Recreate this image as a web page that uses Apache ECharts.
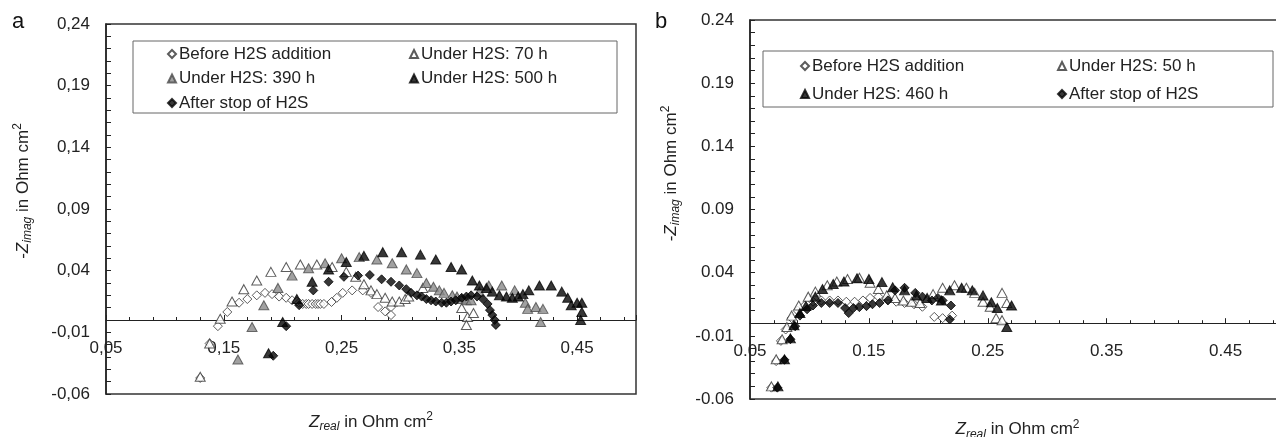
<!DOCTYPE html>
<html>
<head>
<meta charset="utf-8">
<script src="https://cdn.jsdelivr.net/npm/echarts@6/dist/echarts.min.js"></script>
<style>html,body{margin:0;padding:0;background:#fff}#c{width:1276px;height:437px}</style>
</head>
<body>
<div id="c"></div>
<script>
// ---- Panel a data: [Zreal, -Zimag] in Ohm cm2 ----
const aBefore = [[0.130,-0.047],[0.138,-0.019],[0.145,-0.005],[0.153,0.0065],[0.163,0.014],[0.170,0.017],[0.178,0.020],[0.185,0.022],[0.191,0.021],[0.197,0.019],[0.203,0.018],[0.208,0.016],[0.212,0.015],[0.214,0.014],[0.217,0.013],[0.220,0.013],[0.222,0.013],[0.225,0.013],[0.228,0.013],[0.230,0.013],[0.232,0.013],[0.235,0.013],[0.2415,0.0146],[0.246,0.018],[0.251,0.022],[0.259,0.024],[0.268,0.024],[0.275,0.022],[0.281,0.0105],[0.287,0.007],[0.292,0.0105],[0.292,0.004]];
const a70h = [[0.130,-0.046],[0.138,-0.019],[0.147,0.001],[0.157,0.015],[0.167,0.025],[0.178,0.032],[0.190,0.039],[0.203,0.043],[0.215,0.045],[0.229,0.045],[0.242,0.043],[0.254,0.039],[0.262,0.035],[0.269,0.029],[0.275,0.024],[0.280,0.021],[0.287,0.018],[0.293,0.015],[0.299,0.015],[0.304,0.017],[0.307,0.019],[0.319,0.026],[0.352,0.0097],[0.357,0.0024],[0.362,0.0057],[0.356,-0.004]];
const a390h = [[0.162,-0.032],[0.174,-0.0057],[0.184,0.012],[0.196,0.026],[0.208,0.036],[0.222,0.042],[0.236,0.046],[0.250,0.050],[0.265,0.051],[0.280,0.049],[0.293,0.046],[0.305,0.041],[0.314,0.038],[0.322,0.030],[0.328,0.027],[0.333,0.024],[0.337,0.022],[0.344,0.020],[0.348,0.019],[0.352,0.017],[0.356,0.016],[0.360,0.016],[0.367,0.023],[0.375,0.028],[0.386,0.028],[0.397,0.024],[0.406,0.014],[0.408,0.009],[0.415,0.0105],[0.421,0.009],[0.419,-0.0016]];
const a500h = [[0.188,-0.027],[0.200,-0.0016],[0.212,0.017],[0.225,0.031],[0.239,0.041],[0.254,0.047],[0.269,0.052],[0.285,0.055],[0.301,0.055],[0.317,0.053],[0.330,0.049],[0.343,0.043],[0.352,0.041],[0.361,0.032],[0.367,0.028],[0.373,0.026],[0.378,0.023],[0.384,0.020],[0.390,0.019],[0.395,0.018],[0.400,0.019],[0.404,0.021],[0.409,0.024],[0.418,0.028],[0.428,0.028],[0.437,0.023],[0.442,0.018],[0.445,0.012],[0.450,0.014],[0.454,0.014],[0.454,0.0065],[0.453,0.0]];
const aAfter = [[0.192,-0.029],[0.203,-0.005],[0.214,0.012],[0.226,0.024],[0.239,0.031],[0.252,0.035],[0.264,0.036],[0.274,0.0365],[0.284,0.033],[0.292,0.031],[0.299,0.028],[0.305,0.025],[0.309,0.022],[0.314,0.020],[0.318,0.019],[0.322,0.017],[0.326,0.016],[0.330,0.015],[0.335,0.014],[0.339,0.014],[0.343,0.015],[0.347,0.016],[0.352,0.018],[0.356,0.019],[0.360,0.020],[0.365,0.019],[0.370,0.017],[0.374,0.013],[0.376,0.008],[0.378,0.004],[0.380,0.0],[0.381,-0.004]];

// ---- Panel b data ----
const bBefore = [[0.068,-0.051],[0.072,-0.030],[0.076,-0.014],[0.080,-0.005],[0.085,0.004],[0.090,0.010],[0.096,0.014],[0.103,0.017],[0.110,0.018],[0.117,0.018],[0.124,0.018],[0.131,0.017],[0.138,0.017],[0.145,0.018],[0.151,0.020],[0.158,0.021],[0.166,0.019],[0.173,0.017],[0.180,0.016],[0.188,0.015],[0.195,0.013],[0.205,0.005],[0.212,0.004],[0.220,0.006]];
const b50h = [[0.068,-0.050],[0.072,-0.0285],[0.077,-0.0127],[0.081,-0.003],[0.085,0.006],[0.091,0.014],[0.099,0.021],[0.105,0.025],[0.115,0.030],[0.123,0.033],[0.132,0.035],[0.142,0.036],[0.151,0.032],[0.158,0.027],[0.165,0.022],[0.172,0.020],[0.179,0.018],[0.186,0.017],[0.193,0.016],[0.204,0.023],[0.212,0.028],[0.222,0.030],[0.232,0.028],[0.239,0.024],[0.246,0.017],[0.252,0.013],[0.257,0.004],[0.262,0.024],[0.266,0.016],[0.262,0.0024]];
const b460h = [[0.0735,-0.050],[0.079,-0.0285],[0.084,-0.012],[0.087,-0.0016],[0.092,0.008],[0.097,0.0135],[0.105,0.021],[0.111,0.027],[0.120,0.031],[0.129,0.033],[0.140,0.0356],[0.150,0.035],[0.161,0.0325],[0.170,0.0285],[0.180,0.026],[0.190,0.022],[0.199,0.020],[0.211,0.018],[0.218,0.026],[0.228,0.028],[0.237,0.026],[0.246,0.022],[0.253,0.0166],[0.258,0.012],[0.270,0.014],[0.266,-0.003]];
const bAfter = [[0.073,-0.051],[0.079,-0.029],[0.084,-0.0127],[0.088,-0.0024],[0.092,0.006],[0.098,0.011],[0.103,0.014],[0.110,0.016],[0.117,0.016],[0.124,0.016],[0.130,0.012],[0.133,0.008],[0.137,0.012],[0.142,0.0127],[0.148,0.0135],[0.153,0.015],[0.159,0.016],[0.166,0.018],[0.172,0.026],[0.180,0.028],[0.189,0.024],[0.195,0.021],[0.203,0.018],[0.208,0.020],[0.212,0.018],[0.219,0.014],[0.218,0.003]];

const xMin = 0.05, xMax = 0.5, xStep = 0.1;
const yMin = -0.06, yMax = 0.24, yStep = 0.05;
const namesA = ['Before H2S addition','Under H2S: 70 h','Under H2S: 390 h','Under H2S: 500 h','After stop of H2S'];
const namesB = ['Before H2S addition','Under H2S: 50 h','Under H2S: 460 h','After stop of H2S'];

const FONT = 'Liberation Sans, Arial, sans-serif';
const TXT = '#222';
const FS = 17;

const gridA = {left:106, top:24, width:530, height:370};
const gridB = {left:750, top:20, width:535, height:379};

const styles = {
  openDiamond: {symbol:'diamond', symbolSize:[9,9], itemStyle:{color:'#fff', borderColor:'#333', borderWidth:1}},
  openTri: {symbol:'triangle', symbolSize:[10,9], itemStyle:{color:'#fff', borderColor:'#333', borderWidth:1}},
  grayTri: {symbol:'triangle', symbolSize:[10,9], itemStyle:{color:'#8a8a8a', borderColor:'#4a4a4a', borderWidth:1}},
  blackTri: {symbol:'triangle', symbolSize:[10,9], itemStyle:{color:'#050505', borderColor:'#050505', borderWidth:1}},
  blackDiamond: {symbol:'diamond', symbolSize:[9,9], itemStyle:{color:'#050505', borderColor:'#050505', borderWidth:1}}
};

function fmt(sep){ return v => (Math.round(v*100)/100).toFixed(2).replace('.', sep); }
const richName = {
  t:{fontFamily:FONT, fontSize:FS, color:TXT, lineHeight:22},
  z:{fontFamily:FONT, fontSize:FS, color:TXT, fontStyle:'italic', lineHeight:22},
  s:{fontFamily:FONT, fontSize:12, color:TXT, fontStyle:'italic', lineHeight:11, verticalAlign:'bottom'},
  p:{fontFamily:FONT, fontSize:12, color:TXT, lineHeight:11, verticalAlign:'top'}
};

// place the x axis on the y = 0 line (distance from the grid's bottom edge, from the y scale)
function zeroOffset(g){ return -(0 - yMin) / (yMax - yMin) * g.height; }

function xAxisFor(gi, g, sep, gap){
  return {
    gridIndex: gi, type:'value', min:xMin, max:xMax, interval:xStep,
    position:'bottom', offset: zeroOffset(g),
    axisLine:{show:true, onZero:false, lineStyle:{color:'#222', width:1.2}},
    axisTick:{show:true, inside:true, length:5, lineStyle:{color:'#222'}},
    minorTick:{show:true, splitNumber:5, length:3, lineStyle:{color:'#222'}},
    splitLine:{show:false},
    axisLabel:{formatter:fmt(sep), fontFamily:FONT, fontSize:FS, color:TXT, margin:20, showMaxLabel:false},
    name:'{z|Z}{s|real}{t| in Ohm cm}{p|2}', nameLocation:'middle', nameGap:gap,
    nameTextStyle:{rich:richName}
  };
}
function yAxisFor(gi, sep, gap, pad){
  return {
    gridIndex: gi, type:'value', min:yMin, max:yMax, interval:yStep,
    axisLine:{show:true, onZero:false, lineStyle:{color:'#222', width:1.5}},
    axisTick:{show:true, inside:true, length:5, lineStyle:{color:'#222'}},
    minorTick:{show:true, splitNumber:5, length:5, lineStyle:{color:'#222'}},
    splitLine:{show:false},
    axisLabel:{formatter:fmt(sep), fontFamily:FONT, fontSize:FS, color:TXT, margin:16},
    name:'{t|-}{z|Z}{s|imag}{t| in Ohm cm}{p|2}', nameLocation:'middle', nameGap:gap,
    nameTextStyle:{rich:richName, padding:[0,0,0,pad]}
  };
}
function mk(name, data, st, gi){
  return Object.assign({type:'scatter', name:name, data:data, xAxisIndex:gi, yAxisIndex:gi}, st);
}
function legendFor(names, left, top, gap){
  return {
    orient:'vertical', left:left, top:top, padding:0, itemGap:gap,
    itemWidth:8, itemHeight:8, data:names, selectedMode:false,
    textStyle:{fontFamily:FONT, fontSize:FS, color:TXT, lineHeight:20, padding:[0,0,0,-2]}
  };
}
function gridOf(g){
  return Object.assign({show:true, borderColor:'#333', borderWidth:1.5, backgroundColor:'transparent', containLabel:false, outerBoundsMode:'none'}, g);
}

const option = {
  animation:false,
  backgroundColor:'#fff',
  grid:[gridOf(gridA), gridOf(gridB)],
  xAxis:[xAxisFor(0, gridA, ',', 91), xAxisFor(1, gridB, '.', 95)],
  yAxis:[yAxisFor(0, ',', 72, 36), yAxisFor(1, '.', 68, 72)],
  legend:[
    legendFor([namesA[0], namesA[2], namesA[4]], 167, 44, 4.5),
    legendFor([namesA[1], namesA[3]], 409, 44, 4.5),
    legendFor([namesB[0], namesB[2]], 800, 56, 8),
    legendFor([namesB[1], namesB[3]], 1057, 56, 8)
  ],
  graphic:[
    {type:'rect', shape:{x:133, y:41, width:484, height:72}, style:{fill:'#fff', stroke:'#666', lineWidth:1}, z:0},
    {type:'rect', shape:{x:763, y:51, width:510, height:56}, style:{fill:'#fff', stroke:'#666', lineWidth:1}, z:0},
    {type:'text', left:12, top:11, style:{text:'a', fontFamily:FONT, fontSize:22, fill:'#111'}},
    {type:'text', left:655, top:11, style:{text:'b', fontFamily:FONT, fontSize:22, fill:'#111'}}
  ],
  series:[
    mk(namesA[0], aBefore, styles.openDiamond, 0),
    mk(namesA[1], a70h, styles.openTri, 0),
    mk(namesA[2], a390h, styles.grayTri, 0),
    mk(namesA[3], a500h, styles.blackTri, 0),
    mk(namesA[4], aAfter, styles.blackDiamond, 0),
    mk(namesB[0], bBefore, styles.openDiamond, 1),
    mk(namesB[1], b50h, styles.openTri, 1),
    mk(namesB[2], b460h, styles.blackTri, 1),
    mk(namesB[3], bAfter, styles.blackDiamond, 1)
  ]
};
const chart = echarts.init(document.getElementById('c'), null, {renderer:'canvas'});
chart.setOption(option);
</script>
</body>
</html>
